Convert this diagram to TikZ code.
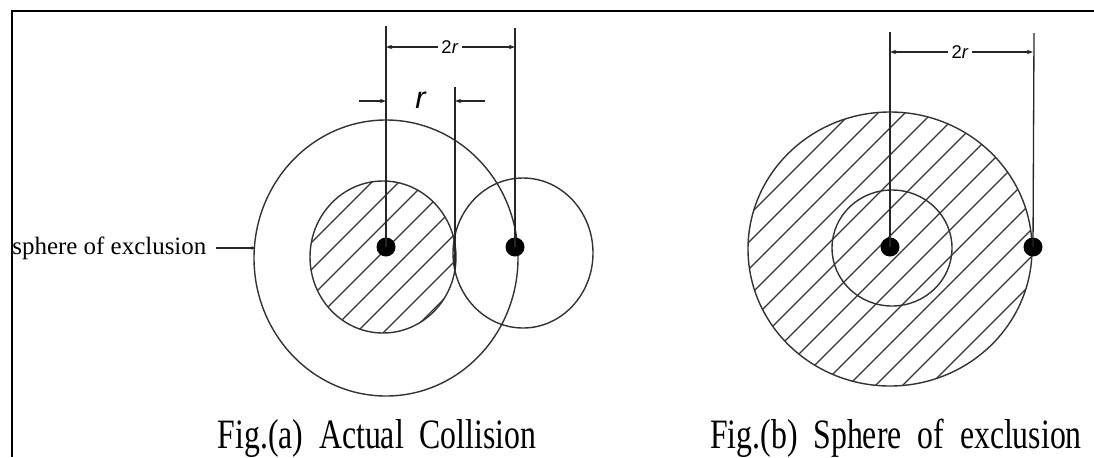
\documentclass[tikz,border=0pt]{standalone}
\usepackage{fontspec}
\setmainfont{Liberation Serif}
\newfontfamily\labelfont{Liberation Sans}
\usetikzlibrary{positioning,arrows.meta}

\begin{document}
\begin{tikzpicture}[
    x=0.02cm, y=-0.02cm,
    frame/.style={draw, line width=1.4pt},
    ring/.style={draw=black!80, line width=0.8pt},
    hatch/.style={draw=black!80, line width=0.65pt},
    dot/.style={circle, fill=black, inner sep=0pt, minimum size=0.38cm},
    dim/.style={draw=black!85, line width=0.75pt},
    dimarrow/.style={dim, -{Stealth[length=3.5pt, width=2.5pt]}},
    leadarrow/.style={dim, -{Stealth[length=2pt, width=2pt]}},
    tag/.style={font=\labelfont\fontsize{10.5}{12}\selectfont, inner sep=2pt},
    rtag/.style={font=\labelfont\fontsize{17.5}{20}\selectfont, inner sep=0pt},
    side/.style={font=\fontsize{14.2}{16}\selectfont, inner sep=0pt},
    caption/.style={font=\fontsize{23.8}{26}\selectfont, inner sep=0pt}
]
    \useasboundingbox (0,0) rectangle (1094,457);

    % Frame
    \draw[frame] (1094,11) -- (12,11) -- (12,457);

    % Fig. (a): hatched sphere
    \begin{scope}
        \clip (383,257) ellipse [x radius=73, y radius=76];
        \foreach \c in {500,527,...,820}
            \draw[hatch] (\c-700,700) -- (\c+100,-100);
    \end{scope}
    \draw[ring] (383,257) ellipse [x radius=73, y radius=76];
    \draw[ring] (386,258) ellipse [x radius=132, y radius=138];
    \draw[ring] (523,253) ellipse [x radius=70, y radius=75];

    % Fig. (b): sphere of exclusion
    \begin{scope}
        \clip (890,249) ellipse [x radius=142, y radius=137];
        \foreach \c in {910,937,...,1380}
            \draw[hatch] (\c-700,700) -- (\c+100,-100);
    \end{scope}
    \draw[ring] (890,249) ellipse [x radius=142, y radius=137];
    \draw[ring] (892,248) ellipse [x radius=60, y radius=58];

    % Centres
    \node[dot] (aL) at (386,247) {};
    \node[dot] (aR) at (515,247) {};
    \node[dot] (bC) at (890,247) {};
    \node[dot] (bE) at (1033,247) {};

    % Dimension lines (a)
    \coordinate (aLtop) at (386,26);
    \coordinate (aRtop) at (515,28);
    \coordinate (rtop) at (455,87);
    \coordinate (rbot) at (455,270);
    \draw[dim] (aL.center) -- (aLtop);
    \draw[dim] (aR.center) -- (aRtop);
    \draw[dim] (rtop) -- (rbot);
    \node[tag] (a2r) at (450,47) {2\textit{r}};
    \draw[dimarrow] (a2r.west) -- (a2r.west -| aL);
    \draw[dimarrow] (a2r.east) -- (a2r.east -| aR);
    \node[rtag] (rlab) at (421,100) {\textit{r}};
    \coordinate (rin) at (359,101);
    \coordinate (rout) at (485,101);
    \draw[dimarrow] (rin) -- (rin -| aL);
    \draw[dimarrow] (rout) -- (rout -| rtop);

    % Dimension lines (b)
    \coordinate (bCtop) at (890,32);
    \coordinate (bEtop) at (1034,33);
    \draw[dim] (bC.center) -- (bCtop);
    \draw[dim] (bE.center) -- (bEtop);
    \node[tag] (b2r) at (960,52) {2\textit{r}};
    \draw[dimarrow] (b2r.west) -- (b2r.west -| bC);
    \draw[dimarrow] (b2r.east) -- (b2r.east -| bE);

    % Labels
    \node[side, anchor=base west] (sphere) at (12,254) {sphere of exclusion};
    \coordinate (lead) at (216,248);
    \coordinate (outerW) at (255,248);
    \draw[leadarrow] (lead) -- (outerW);
    \node[caption, anchor=base] (capa) at (377,448) {\scalebox{0.76}[1]{Fig.(a)\ \ Actual\ \ Collision}};
    \node[caption, anchor=base] (capb) at (896,448) {\scalebox{0.76}[1]{Fig.(b)\ \ Sphere\ \ of\ \ exclusion}};
\end{tikzpicture}
\end{document}
